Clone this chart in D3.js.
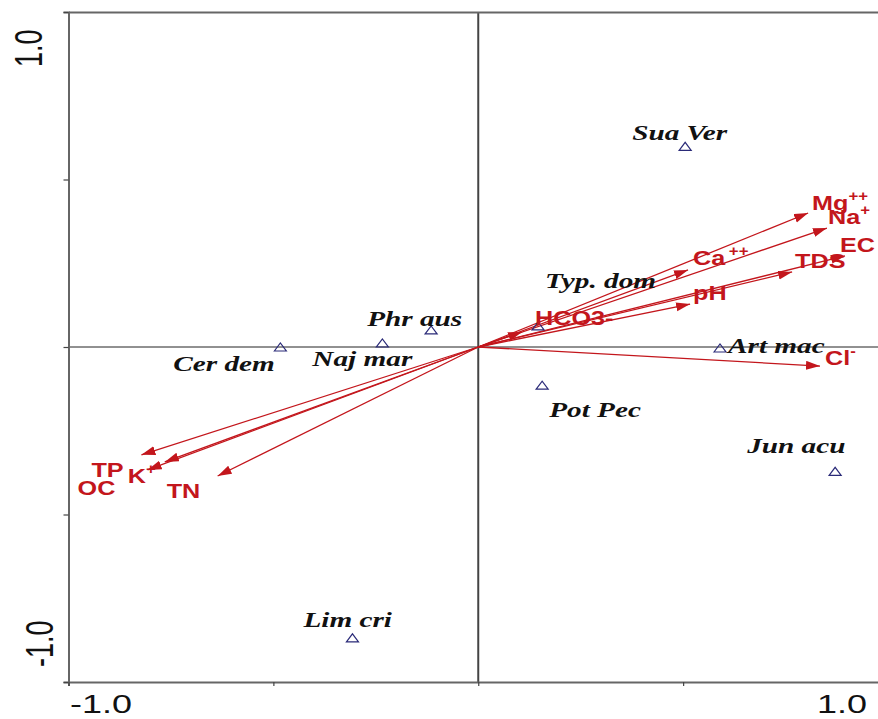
<!DOCTYPE html>
<html><head><meta charset="utf-8">
<script src="https://cdn.jsdelivr.net/npm/d3@7"></script>
<style>body{margin:0;background:#fff}</style>
</head><body>
<svg id="c" width="878" height="719"></svg>
<script>
// ---- data ----
const speciesNames = ["Sua Ver","Phr aus","Naj mar","Cer dem","Typ. dom","Art mac","Pot Pec","Jun acu","Lim cri"];
const speciesAx1 = [0.505,-0.115,-0.234,-0.483,0.146,0.590,0.156,0.871,-0.307];
const speciesAx2 = [0.599,0.051,0.012,0.000,0.063,-0.003,-0.114,-0.371,-0.868];
const envNames = ["Mg","Na","EC","TDS","Ca","pH","HCO3-","Cl","TP","K","OC","TN"];
const envSup   = ["++","+","","","++","","","-","","+","",""];
const envAx1 = [0.805,0.851,0.895,0.766,0.512,0.517,0.107,0.834,-0.822,-0.765,-0.807,-0.636];
const envAx2 = [0.400,0.355,0.272,0.224,0.230,0.128,0.045,-0.057,-0.322,-0.343,-0.367,-0.385];
const axisTicks = [-1,-0.5,0,0.5,1];
const axisTickLabels = ["-1.0","","","","1.0"];

// ---- layout (pixel offsets of labels) ----
const speciesLabelOff = [[-53,-6],[-64,-4],[-70,23],[-107,24],[7,-38],[8,5],[7,32],[-88,-18],[-49,-11]];
const envLabelOff = [[4,-3],[1,-4],[-5,-4],[3,-4],[5,-5],[3,-4],[13,-7],[5,-1],[-50,22],[-37,21],[-70,25],[-51,22]];

const svg = d3.select("#c");
const x = d3.scaleLinear().domain([-1,1]).range([68.5,888]);
const y = d3.scaleLinear().domain([-1,1]).range([682,12]);
const RED = "#c3161c", NAVY = "#2a2a78";

// zero lines
svg.append("line").attr("x1",x(-1)).attr("x2",x(1)).attr("y1",y(0)).attr("y2",y(0))
  .attr("stroke","#222").attr("stroke-width",1);
svg.append("line").attr("x1",x(0)).attr("x2",x(0)).attr("y1",y(1)).attr("y2",y(-1))
  .attr("stroke","#444").attr("stroke-width",2);

// frame axes
const gl = svg.append("g").attr("transform",`translate(${x(-1)},0)`)
  .call(d3.axisLeft(y).tickValues(axisTicks).tickSize(5).tickFormat(""));
const gb = svg.append("g").attr("transform",`translate(0,${y(-1)})`)
  .call(d3.axisBottom(x).tickValues(axisTicks).tickSize(4).tickFormat(""));
const gt = svg.append("g").attr("transform",`translate(0,${y(1)})`)
  .call(d3.axisTop(x).tickValues([]).tickSize(0));
[gl,gb,gt].forEach(g=>{
  g.select(".domain").attr("stroke","#666").attr("stroke-width",2);
  g.selectAll(".tick line").attr("stroke","#444").attr("stroke-width",1.2);
});

// axis labels
const axFont = "Liberation Sans, Arial, sans-serif";
svg.append("g").attr("transform",`translate(70,713) scale(1.44,1)`)
  .append("text").attr("font-family",axFont).attr("font-size",25).attr("fill","#111")
  .text(axisTickLabels[0]);
svg.append("g").attr("transform",`translate(867,713) scale(1.44,1)`)
  .append("text").attr("font-family",axFont).attr("font-size",25).attr("fill","#111")
  .attr("text-anchor","end").text(axisTickLabels[4]);
svg.append("g").attr("transform",`translate(42,67) scale(1.44,1) rotate(-90)`)
  .append("text").attr("font-family",axFont).attr("font-size",27).attr("fill","#111")
  .text(axisTickLabels[4]);
svg.append("g").attr("transform",`translate(53,667) scale(1.44,1) rotate(-90)`)
  .append("text").attr("font-family",axFont).attr("font-size",27).attr("fill","#111")
  .text(axisTickLabels[0]);

// arrow marker
svg.append("defs").append("marker").attr("id","ah")
  .attr("markerUnits","userSpaceOnUse").attr("markerWidth",16).attr("markerHeight",10)
  .attr("refX",14).attr("refY",4.5).attr("orient","auto")
  .append("path").attr("d","M0,0 L14,4.5 L0,9 Z").attr("fill",RED);

const env = envNames.map((n,i)=>({n, sup:envSup[i], a:envAx1[i], b:envAx2[i], off:envLabelOff[i]}));
svg.append("g").selectAll("line").data(env).join("line")
  .attr("x1",x(0)).attr("y1",y(0)).attr("x2",d=>x(d.a)).attr("y2",d=>y(d.b))
  .attr("stroke",RED).attr("stroke-width",1.3).attr("marker-end","url(#ah)");

// species triangles
const sp = speciesNames.map((n,i)=>({n, a:speciesAx1[i], b:speciesAx2[i], off:speciesLabelOff[i]}));
svg.append("g").selectAll("path").data(sp).join("path")
  .attr("transform",d=>`translate(${x(d.a)},${y(d.b)})`)
  .attr("d","M-6,4 L0,-4 L6,4 Z").attr("fill","none").attr("stroke",NAVY).attr("stroke-width",1.2);

// species labels
svg.append("g").selectAll("g").data(sp).join("g")
  .attr("transform",d=>`translate(${x(d.a)+d.off[0]},${y(d.b)+d.off[1]}) scale(1.36,1)`)
  .append("text").attr("font-family","Liberation Serif, Times New Roman, serif")
  .attr("font-style","italic").attr("font-weight","bold").attr("font-size",21.5).attr("fill","#111")
  .text(d=>d.n);

// env labels
const et = svg.append("g").selectAll("g").data(env).join("g")
  .attr("transform",d=>`translate(${x(d.a)+d.off[0]},${y(d.b)+d.off[1]}) scale(1.2,1)`)
  .append("text").attr("font-family",axFont).attr("font-weight","bold").attr("font-size",21).attr("fill",RED);
et.append("tspan").text(d=>d.n);
et.filter(d=>d.sup).append("tspan").attr("font-size",14).attr("dy",-9).attr("dx",d=>d.n==="Ca"?3:0).text(d=>d.sup);
</script>
</body></html>
